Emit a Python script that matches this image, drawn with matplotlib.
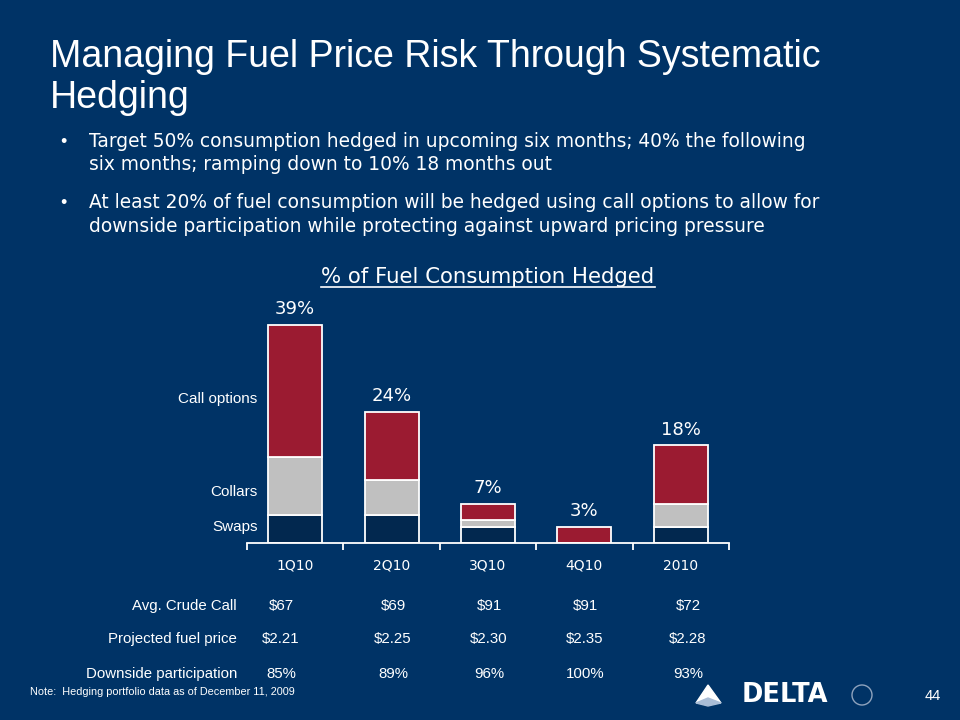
import matplotlib.pyplot as plt
from matplotlib.patches import Polygon, Circle
from matplotlib.lines import Line2D

plt.rcParams['font.family'] = ['Liberation Sans', 'DejaVu Sans']
WIDE = ['DejaVu Sans']  # the slide text is set with loose tracking

quarters = ['1Q10', '2Q10', '3Q10', '4Q10', '2010']
swaps = [5.0, 5.0, 3.0, 0.0, 3.0]
collars = [10.4, 6.3, 1.2, 0.0, 4.1]
calls = [23.6, 12.2, 2.9, 3.0, 10.4]
total_labels = ['39%', '24%', '7%', '3%', '18%']
series_names = ['Swaps', 'Collars', 'Call options']

row_names = ['Avg. Crude Call', 'Projected fuel price', 'Downside participation']
avg_crude_call = ['$67', '$69', '$91', '$91', '$72']
fuel_price = ['$2.21', '$2.25', '$2.30', '$2.35', '$2.28']
downside = ['85%', '89%', '96%', '100%', '93%']

bullets = [
    ['Target 50% consumption hedged in upcoming six months; 40% the following',
     'six months; ramping down to 10% 18 months out'],
    ['At least 20% of fuel consumption will be hedged using call options to allow for',
     'downside participation while protecting against upward pricing pressure'],
]

bg = '#003366'
navy = '#02284f'
grey = '#c0c0c0'
red = '#9b1b31'

W, H = 960, 720


def fx(x):
    return x / W


def fy(y):
    return 1 - y / H


fig = plt.figure(figsize=(9.6, 7.2), dpi=100, facecolor=bg)

# title
fig.text(fx(50), fy(67), 'Managing Fuel Price Risk Through Systematic',
         color='white', fontsize=27, va='baseline')
fig.text(fx(50), fy(108), 'Hedging', color='white', fontsize=27, va='baseline')

# bullets
line_y = [[147, 170], [208, 232]]
for lines, ys in zip(bullets, line_y):
    fig.text(fx(60), fy(ys[0]), '\u2022', color='white', fontsize=13, va='baseline')
    for txt, y in zip(lines, ys):
        fig.text(fx(89), fy(y), txt, color='white', fontsize=13.4, va='baseline',
                 family=WIDE)

# chart title, underlined
t = fig.text(fx(488), fy(283), '% of Fuel Consumption Hedged', color='white',
             fontsize=15.3, ha='center', va='baseline', family=WIDE)
fig.canvas.draw()
bb = t.get_window_extent()
fig.add_artist(Line2D([bb.x0 / W, bb.x1 / W], [fy(287), fy(287)],
                      color='white', lw=1.2))

# bars
ax = fig.add_axes([fx(247), fy(543.3), (729 - 247) / W, 223.6 / H])
ax.set_facecolor('none')
x = list(range(len(quarters)))
mid = [s + c for s, c in zip(swaps, collars)]
tops = [m + c for m, c in zip(mid, calls)]
kw = dict(width=0.56, edgecolor='white', linewidth=1.3)
ax.bar(x, swaps, color=navy, **kw)
ax.bar(x, collars, bottom=swaps, color=grey, **kw)
ax.bar(x, calls, bottom=mid, color=red, **kw)

for i, lbl in enumerate(total_labels):
    ax.annotate(lbl, (i, tops[i]), xytext=(0, 5), textcoords='offset points',
                ha='center', va='bottom', color='white', fontsize=13, family=WIDE)

for name, y in zip(series_names, [2.9, 9.2, 25.8]):
    ax.text(-0.39, y, name, ha='right', va='center', color='white', fontsize=11)

ax.set_xlim(-0.5, 4.5)
ax.set_ylim(0, 40)
ax.set_yticks([])
for s in ['left', 'right', 'top']:
    ax.spines[s].set_visible(False)
ax.spines['bottom'].set_color('white')
ax.spines['bottom'].set_linewidth(1.3)
ax.set_xticks(x, quarters, family=WIDE)
ax.set_xticks([i - 0.5 for i in range(len(quarters) + 1)], minor=True)
ax.tick_params(axis='x', which='major', length=0, pad=11, labelcolor='white',
               labelsize=10)
ax.tick_params(axis='x', which='minor', length=5, width=1.3, color='white')

# table under chart
col_x = [281, 393, 489, 585, 688]
row_y = [606, 639, 674]
for name, vals, y in zip(row_names, [avg_crude_call, fuel_price, downside], row_y):
    fig.text(fx(237), fy(y), name, ha='right', va='center', color='white',
             fontsize=10.8)
    for v, cx in zip(vals, col_x):
        fig.text(fx(cx), fy(y), v, ha='center', va='center', color='white',
                 fontsize=10.8)

fig.text(fx(30), fy(692), 'Note:  Hedging portfolio data as of December 11, 2009',
         color='white', fontsize=7.8, va='center')
fig.text(fx(933), fy(696), '44', color='white', fontsize=10.5, ha='center', va='center')

# delta logo
fig.add_artist(Polygon([(fx(708), fy(685)), (fx(696), fy(703)), (fx(708), fy(698)),
                        (fx(721), fy(703))], closed=True, color='white'))
fig.add_artist(Polygon([(fx(696), fy(703)), (fx(708), fy(698)), (fx(721), fy(703)),
                        (fx(708), fy(706))], closed=True, color='#a9bdd6'))
fig.text(fx(785), fy(695), 'DELTA', color='white', fontsize=18.5, fontweight='bold',
         ha='center', va='center', family=WIDE)
fig.add_artist(Circle((8.62, 7.2 - 6.95), 0.1, transform=fig.dpi_scale_trans,
                      fill=False, ec='#8fa3bd', lw=1))

fig.savefig('out.png', dpi=100, facecolor=bg)
